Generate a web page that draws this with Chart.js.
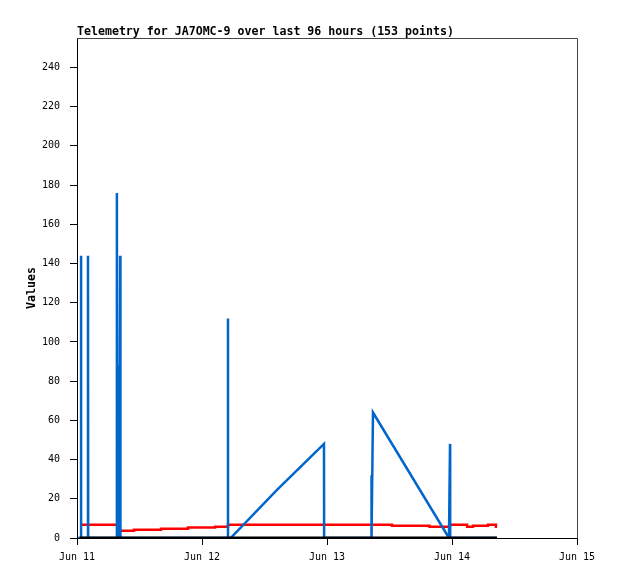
<!DOCTYPE html>
<html>
<head>
<meta charset="utf-8">
<script src="https://cdn.jsdelivr.net/npm/chart.js@4"></script>
<style>
html,body{margin:0;padding:0;background:#fff;}
canvas{display:block;}
</style>
</head>
<body>
<canvas id="c" width="618" height="579"></canvas>
<script>
// Title
const chartTitle = 'Telemetry for JA7OMC-9 over last 96 hours (153 points)';
const yAxisTitle = 'Values';
// X: hours since Jun 11 00:00
const xTickValues = [0, 24, 48, 72, 96];
const xTickLabels = ['Jun 11', 'Jun 12', 'Jun 13', 'Jun 14', 'Jun 15'];
const yTickValues = [0, 20, 40, 60, 80, 100, 120, 140, 160, 180, 200, 220, 240];

// Blue series (hours, value)
const blueHours = [0.2, 0.77, 0.77, 0.8, 2.11, 2.11, 2.15, 7.58, 7.66, 7.72, 7.76, 7.82, 7.88, 7.94, 8.0, 8.06, 8.12, 8.18, 8.24, 8.28, 8.34,
  28.99, 28.99, 29.0, 29.5, 38.4, 47.42, 47.45, 56.5, 56.5, 56.6, 56.83, 71.42, 71.62, 71.65, 80.64];
const blueValues = [0, 0, 144, 0, 0, 144, 0, 0, 176, 0, 88, 0, 88, 0, 88, 0, 88, 0, 88, 144, 0,
  0, 112, 0, 0, 24.5, 48, 0, 0, 32, 0, 64, 0, 48, 0, 0];

// Red series (stepped)
const redHours = [0.9, 7.9, 10.94, 16.13, 21.31, 26.5, 28.99, 60.48, 67.68, 71.52, 74.9, 76.03, 78.9, 80.45, 80.64];
const redValues = [6.8, 3.7, 4.2, 4.7, 5.3, 5.8, 6.8, 6.3, 5.8, 6.8, 5.8, 6.3, 6.8, 5.8, 5.8];

// Black series
const blackHours = [0.5, 80.64];
const blackValues = [0, 0];

function pts(xs, ys) { return xs.map((x, i) => ({x: x, y: ys[i]})); }

const frame = {
  id: 'frame',
  beforeDatasetsDraw(chart) {
    const {ctx, chartArea: a} = chart;
    ctx.save();
    ctx.strokeStyle = '#444';
    ctx.lineWidth = 1;
    ctx.beginPath();
    ctx.moveTo(a.left, a.top + 0.5);
    ctx.lineTo(a.right + 0.5, a.top + 0.5);
    ctx.lineTo(a.right + 0.5, a.bottom);
    ctx.stroke();
    ctx.restore();
  },
  afterDraw(chart) {
    const {ctx, chartArea: a} = chart;
    ctx.save();
    ctx.fillStyle = '#000';
    ctx.font = 'bold 11.6px "DejaVu Sans Mono"';
    ctx.textAlign = 'left';
    ctx.textBaseline = 'alphabetic';
    ctx.fillText(chartTitle, a.left, 35);
    ctx.restore();
  }
};

new Chart(document.getElementById('c'), {
  type: 'line',
  data: {
    datasets: [
      {label: 'red', data: pts(redHours, redValues), borderColor: '#ff0000', borderWidth: 2.5, pointRadius: 0, stepped: true, order: 3, tension: 0},
      {label: 'blue', data: pts(blueHours, blueValues), borderColor: '#0066cc', borderWidth: 2.5, pointRadius: 0, order: 2, tension: 0},
      {label: 'black', data: pts(blackHours, blackValues), borderColor: '#000000', borderWidth: 3, pointRadius: 0, order: 1, tension: 0}
    ]
  },
  options: {
    responsive: false,
    animation: false,
    devicePixelRatio: 1,
    layout: {padding: {left: 0, top: 38, right: 41, bottom: 0}},
    plugins: {legend: {display: false}, tooltip: {enabled: false}, title: {display: false}},
    scales: {
      x: {
        type: 'linear', min: 0, max: 96,
        afterBuildTicks(s) { s.ticks = xTickValues.map(v => ({value: v})); },
        afterFit(s) { s.height = 41; },
        grid: {display: true, drawOnChartArea: false, drawTicks: true, tickLength: 7, color: '#000'},
        border: {display: true, color: '#000', width: 1},
        ticks: {
          color: '#000', padding: 6, maxRotation: 0, autoSkip: false,
          font: {family: '"DejaVu Sans Mono"', size: 10},
          callback(v) { const i = xTickValues.indexOf(v); return i >= 0 ? xTickLabels[i] : ''; }
        }
      },
      y: {
        type: 'linear', min: 0, max: 255,
        afterBuildTicks(s) { s.ticks = yTickValues.map(v => ({value: v})); },
        afterFit(s) { s.width = 77; },
        grid: {display: true, drawOnChartArea: false, drawTicks: true, tickLength: 7, color: '#000'},
        border: {display: true, color: '#000', width: 1},
        title: {display: true, text: yAxisTitle, color: '#000', font: {family: '"DejaVu Sans Mono"', size: 11.6, weight: 'bold'}, padding: {top: 25, bottom: 0}},
        ticks: {
          color: '#000', padding: 10,
          font: {family: '"DejaVu Sans Mono"', size: 10},
          callback(v) { return String(v); }
        }
      }
    }
  },
  plugins: [frame]
});
</script>
</body>
</html>
